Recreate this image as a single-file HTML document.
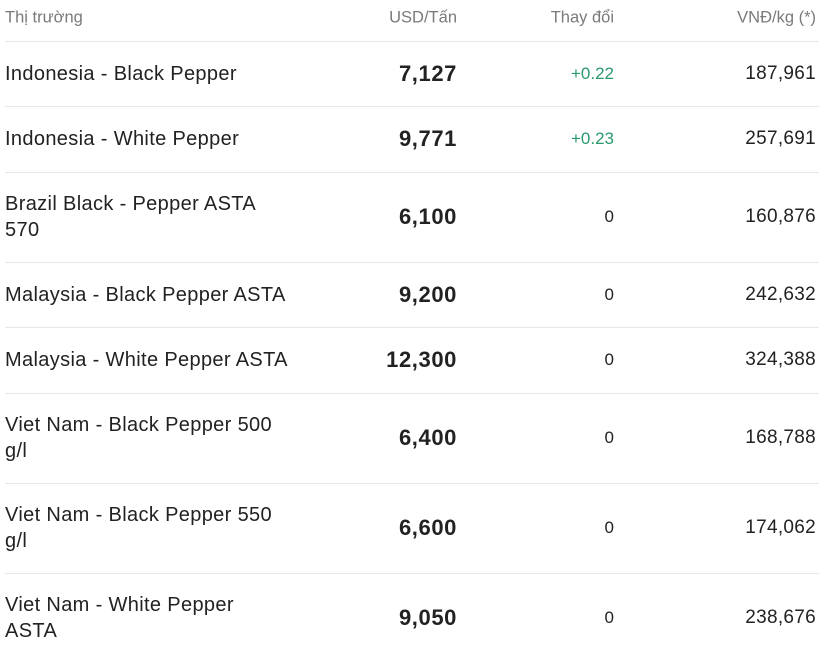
<!DOCTYPE html>
<html><head><meta charset="utf-8"><style>
body{margin:0;width:824px;height:654px;background:#fff;font-family:"Liberation Sans",sans-serif;color:#222;position:relative;overflow:hidden}
.t{position:absolute;white-space:nowrap;transform:translateY(-50%)}
.n{left:5px;font-size:20px;letter-spacing:0.35px;line-height:26px}
.h{font-size:16.5px;color:#7a7a7a}
.v{font-size:22px;letter-spacing:0.6px;font-weight:bold;right:367px}
.c{font-size:17px;right:210px}
.g{color:#2a9a6e}
.k{font-size:19px;letter-spacing:0.3px;right:8px}
.l{position:absolute;left:5px;right:5px;height:1px;background:#e8e8e8}
</style></head><body>
<div class="t h" style="left:5px;top:18px">Thị trường</div>
<div class="t h" style="right:367px;top:18px">USD/Tấn</div>
<div class="t h" style="right:210px;top:18px">Thay đổi</div>
<div class="t h" style="right:8px;top:18px">VNĐ/kg (*)</div>
<div class="l" style="top:41px"></div>

<div class="t n" style="top:74px">Indonesia - Black Pepper</div>
<div class="t v" style="top:74px">7,127</div>
<div class="t c g" style="top:74px">+0.22</div>
<div class="t k" style="top:74px">187,961</div>
<div class="l" style="top:106px"></div>

<div class="t n" style="top:139px">Indonesia - White Pepper</div>
<div class="t v" style="top:139px">9,771</div>
<div class="t c g" style="top:139px">+0.23</div>
<div class="t k" style="top:139px">257,691</div>
<div class="l" style="top:172px"></div>

<div class="t n" style="top:217px">Brazil Black - Pepper ASTA<br>570</div>
<div class="t v" style="top:217px">6,100</div>
<div class="t c" style="top:217px">0</div>
<div class="t k" style="top:217px">160,876</div>
<div class="l" style="top:262px"></div>

<div class="t n" style="top:295px">Malaysia - Black Pepper ASTA</div>
<div class="t v" style="top:295px">9,200</div>
<div class="t c" style="top:295px">0</div>
<div class="t k" style="top:295px">242,632</div>
<div class="l" style="top:327px"></div>

<div class="t n" style="top:360px">Malaysia - White Pepper ASTA</div>
<div class="t v" style="top:360px">12,300</div>
<div class="t c" style="top:360px">0</div>
<div class="t k" style="top:360px">324,388</div>
<div class="l" style="top:393px"></div>

<div class="t n" style="top:438px">Viet Nam - Black Pepper 500<br>g/l</div>
<div class="t v" style="top:438px">6,400</div>
<div class="t c" style="top:438px">0</div>
<div class="t k" style="top:438px">168,788</div>
<div class="l" style="top:483px"></div>

<div class="t n" style="top:528px">Viet Nam - Black Pepper 550<br>g/l</div>
<div class="t v" style="top:528px">6,600</div>
<div class="t c" style="top:528px">0</div>
<div class="t k" style="top:528px">174,062</div>
<div class="l" style="top:573px"></div>

<div class="t n" style="top:618px">Viet Nam - White Pepper<br>ASTA</div>
<div class="t v" style="top:618px">9,050</div>
<div class="t c" style="top:618px">0</div>
<div class="t k" style="top:618px">238,676</div>
</body></html>
